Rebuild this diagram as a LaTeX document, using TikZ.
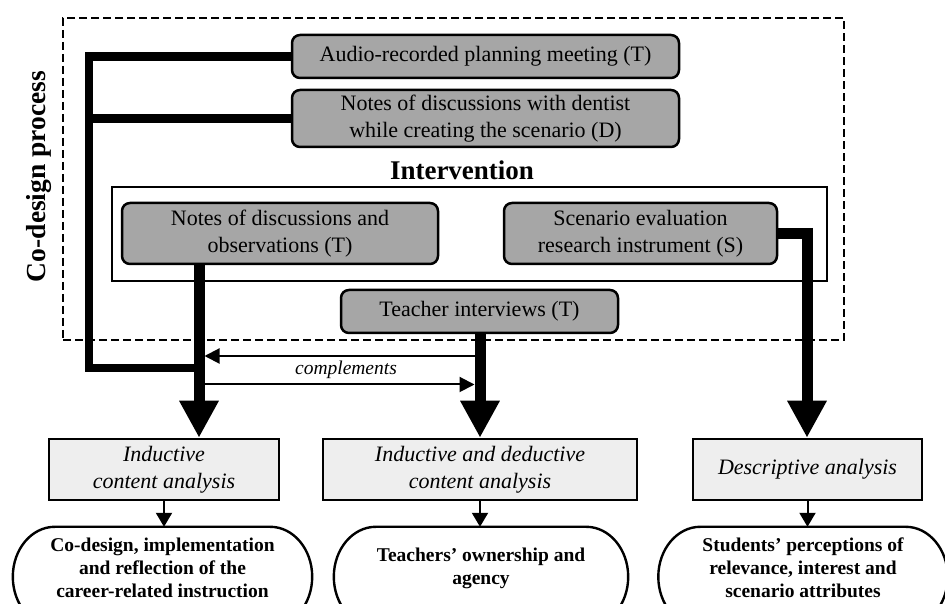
\documentclass[tikz,border=0pt]{standalone}
\usepackage{fontspec}
\setmainfont{Liberation Serif}
\usetikzlibrary{arrows.meta,calc}
\definecolor{boxgray}{RGB}{166,166,166}
\definecolor{anagray}{RGB}{238,238,238}
\newcommand{\stadiumshape}[1]{%
  \draw[ovalline] let \p1=(#1.north west),\p2=(#1.north east) in
    (\x1+42,\y1) -- (\x2-42,\y1)
    arc[start angle=90,end angle=-90,x radius=42,y radius=50]
    -- (\x1+42,\y1-100)
    arc[start angle=-90,end angle=-270,x radius=42,y radius=50] -- cycle;}
\begin{document}
\begin{tikzpicture}[x=1pt,y=1pt,
  graybox/.style={draw, line width=2.5pt, rounded corners=8pt, fill=boxgray,
    font=\fontsize{22}{26.5}\selectfont, align=center, inner sep=0pt},
  anabox/.style={draw, line width=2.5pt, fill=anagray,
    font=\fontsize{22}{27}\selectfont\itshape, align=center, inner sep=0pt,
    minimum height=61},
  ovaltext/.style={font=\fontsize{19.5}{23}\selectfont\bfseries, align=center,
    inner sep=0pt, minimum height=82},
  ovalline/.style={line width=2.4pt},
  frameline/.style={line width=8.5pt},
  heavyline/.style={line width=11pt},
  bigarrow/.style={-{Triangle[width=37pt,length=37pt]}},
  thinarrow/.style={line width=2pt,-{Triangle[width=16pt,length=14pt]}}
]
\useasboundingbox (0,0) rectangle (945,604);
\clip (0,0) rectangle (945,604);

% containers
\node[draw, line width=2.5pt, dash pattern=on 8pt off 4pt, minimum width=781,
  minimum height=322, inner sep=0pt] (cobox) at (453.5,425) {};
\node[rotate=90, font=\fontsize{27.5}{30}\selectfont\bfseries] (colabel)
  at (39,427.5) {Co-design process};
\node[anchor=base, font=\fontsize{27}{30}\selectfont\bfseries] (intlabel)
  at (462,424) {Intervention};
\node[draw, line width=2pt, minimum width=715, minimum height=94, inner sep=0pt]
  (ibox) at (469.5,370) {};

% gray source boxes
\node[graybox, minimum width=387, minimum height=43] (b1) at (485.5,547.5)
  {Audio-recorded planning meeting (T)};
\node[graybox, minimum width=387, minimum height=57] (b2) at (485.5,485.5)
  {Notes of discussions with dentist\\while creating the scenario (D)};
\node[graybox, minimum width=316, minimum height=61] (b3) at (280,370.5)
  {Notes of discussions and\\observations (T)};
\node[graybox, minimum width=273, minimum height=61] (b4) at (640.5,370.5)
  {Scenario evaluation\\research instrument (S)};
\node[graybox, minimum width=277, minimum height=43] (b5) at (479.5,292.5)
  {Teacher interviews (T)};

% analysis boxes
\node[anabox, minimum width=230] (a1) at (164,134.5)
  {Inductive\\content analysis};
\node[anabox, minimum width=314] (a2) at (480,134.5)
  {Inductive and deductive\\content analysis};
\node[anabox, minimum width=229] (a3) at (807.5,134.5)
  {Descriptive analysis};

% result ovals
\node[ovaltext, minimum width=299] (e1) at (162.5,36)
  {Co-design, implementation\\and reflection of the\\career-related instruction};
\node[ovaltext, minimum width=294] (e2) at (481,36)
  {Teachers’ ownership and\\agency};
\node[ovaltext, minimum width=289] (e3) at (803,36)
  {Students’ perceptions of\\relevance, interest and\\scenario attributes};
\stadiumshape{e1}
\stadiumshape{e2}
\stadiumshape{e3}

% coordinates
\coordinate (fTop) at (89,547.5);
\coordinate (fMid) at (89,485.5);
\coordinate (fBot) at (89,236);
\coordinate (jL) at (199,236);
\coordinate (d3) at (199,340);
\coordinate (k4) at (807,370.5);

% co-design frame lines
\draw[frameline] (b1.west) -- (fTop) -- (fBot) -- (jL);
\draw[frameline] (b2.west) -- (fMid);

% thick arrows
\draw[heavyline, bigarrow] (d3) -- (d3 |- a1.north);
\draw[heavyline, bigarrow] (b5.south -| a2.north) -- (a2.north);
\draw[heavyline] (b4.east) -- ([xshift=5.5pt]k4);
\draw[heavyline, bigarrow] ([yshift=5.5pt]k4) -- (k4 |- a3.north);

% complements arrows
\coordinate (cR1) at (480,248);
\coordinate (cL1) at (204.5,248);
\coordinate (cL2) at (204,219.5);
\coordinate (cR2) at (474.5,219.5);
\draw[line width=2pt, -{Triangle[width=15pt,length=15pt]}] (cR1) -- (cL1);
\draw[line width=2pt, -{Triangle[width=15pt,length=15pt]}] (cL2) -- (cR2);
\node[font=\fontsize{19.5}{22}\selectfont\itshape] (comp) at (346,234) {complements};

% analysis -> results
\draw[thinarrow] (a1.south) -- (a1.south |- e1.north);
\draw[thinarrow] (a2.south) -- (a2.south |- e2.north);
\draw[thinarrow] (a3.south) -- (a3.south |- e3.north);
\end{tikzpicture}
\end{document}
